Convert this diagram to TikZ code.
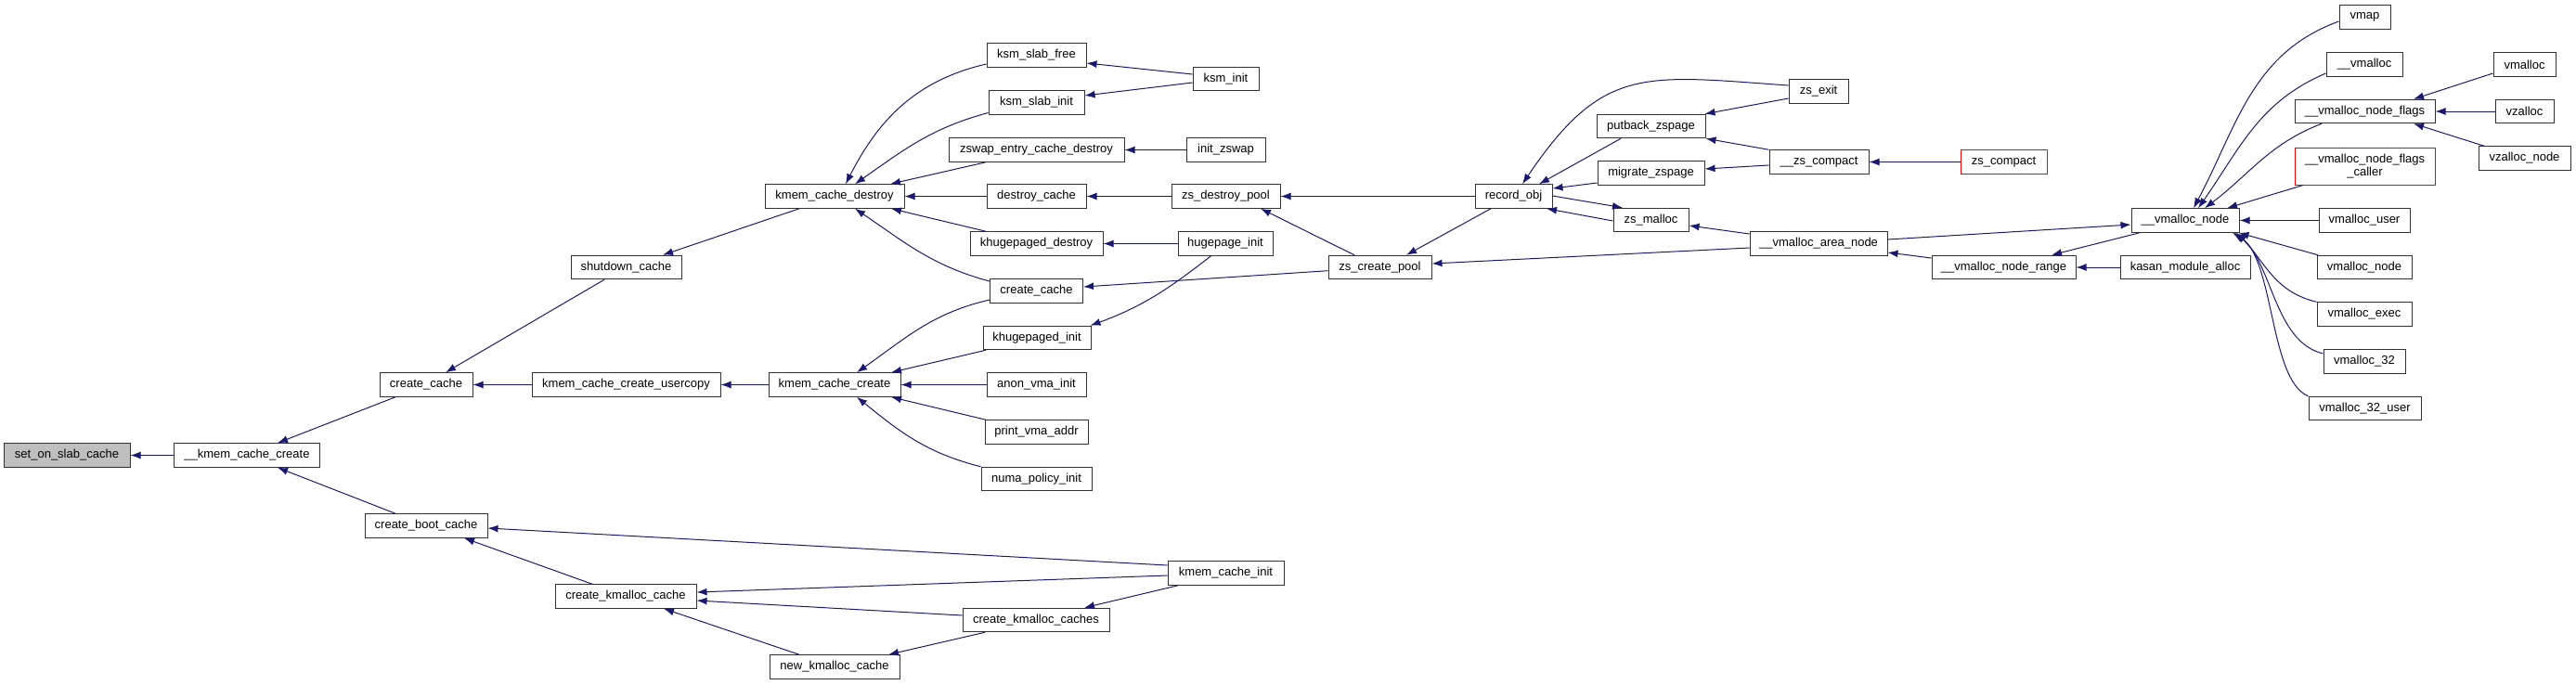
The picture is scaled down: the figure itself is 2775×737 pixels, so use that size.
\documentclass[tikz,border=0pt]{standalone}
\usepackage{fontspec}
\setmainfont{Liberation Sans}
\usepackage{tikz}
\usetikzlibrary{arrows.meta}
\definecolor{edgeblue}{RGB}{25,25,112}
\definecolor{boxgray}{RGB}{50,50,50}
\definecolor{rootfill}{RGB}{191,191,191}
\definecolor{hidered}{RGB}{255,0,0}

\begin{document}
\begin{tikzpicture}[
      x=1pt,y=-1pt,
      fn/.style={draw=boxgray,line width=1pt,fill=white,inner xsep=2pt,inner ysep=0pt,minimum height=25.5pt,font=\fontsize{13}{14}\selectfont,align=center},
      root/.style={fn,fill=rootfill},
      trunc/.style={fn,draw=hidered},
      call/.style={-{Latex[length=11pt,width=8pt]},line width=1pt,draw=edgeblue}
    ]
      \useasboundingbox (0,0) rectangle (2775,737);

      \node[root,minimum width=136pt] (setslab) at (72,490.5) {set\_on\_slab\_cache};
      \node[fn,minimum width=157pt] (kmemcreateint) at (266,490.5) {\_\_kmem\_cache\_create};
      \node[fn,minimum width=100pt] (createcacheA) at (459,414.5) {create\_cache};
      \node[fn,minimum width=132pt] (createboot) at (459,566.5) {create\_boot\_cache};
      \node[fn,minimum width=203pt] (usercopy) at (674.5,414.5) {kmem\_cache\_create\_usercopy};
      \node[fn,minimum width=119pt] (shutdown) at (674.5,288) {shutdown\_cache};
      \node[fn,minimum width=152pt] (createkmalloc) at (674,642.5) {create\_kmalloc\_cache};
      \node[fn,minimum width=150pt] (kmemdestroy) at (899,211.5) {kmem\_cache\_destroy};
      \node[fn,minimum width=142pt] (kmemcreate) at (899,414.5) {kmem\_cache\_create};
      \node[fn,minimum width=140pt] (newkmalloc) at (899,718.5) {new\_kmalloc\_cache};

      \node[fn,minimum width=107pt] (ksmfree) at (1116.5,59.5) {ksm\_slab\_free};
      \node[fn,minimum width=103pt] (ksmslabinit) at (1116.5,110.5) {ksm\_slab\_init};
      \node[fn,minimum width=189pt] (zswapdestroy) at (1116.5,161.5) {zswap\_entry\_cache\_destroy};
      \node[fn,minimum width=107pt] (destroycache) at (1116.5,211.5) {destroy\_cache};
      \node[fn,minimum width=143pt] (khdestroy) at (1116.5,262.5) {khugepaged\_destroy};
      \node[fn,minimum width=100pt] (createcacheB) at (1116.5,313.5) {create\_cache};
      \node[fn,minimum width=116pt] (khinit) at (1117,364) {khugepaged\_init};
      \node[fn,minimum width=107pt] (anonvma) at (1116.5,414.5) {anon\_vma\_init};
      \node[fn,minimum width=111pt] (printvma) at (1116.5,465.5) {print\_vma\_addr};
      \node[fn,minimum width=119pt] (numapolicy) at (1116.5,516) {numa\_policy\_init};
      \node[fn,minimum width=158pt] (kmallocs) at (1116,668) {create\_kmalloc\_caches};

      \node[fn,minimum width=71pt] (ksminit) at (1320.5,85) {ksm\_init};
      \node[fn,minimum width=85pt] (initzswap) at (1320.5,161.5) {init\_zswap};
      \node[fn,minimum width=117pt] (zsdestroy) at (1320.5,211.5) {zs\_destroy\_pool};
      \node[fn,minimum width=102pt] (hugeinit) at (1320,262.5) {hugepage\_init};
      \node[fn,minimum width=125pt] (kmeminit) at (1320.5,617.5) {kmem\_cache\_init};
      \node[fn,minimum width=111pt] (zscreate) at (1486.5,288) {zs\_create\_pool};
      \node[fn,minimum width=83pt] (recordobj) at (1630.5,211.5) {record\_obj};

      \node[fn,minimum width=117pt] (putback) at (1778.5,136) {putback\_zspage};
      \node[fn,minimum width=115pt] (migrate) at (1778.5,186.5) {migrate\_zspage};
      \node[fn,minimum width=81pt] (zsmalloc) at (1778.5,237) {zs\_malloc};
      \node[fn,minimum width=64pt] (zsexit) at (1959,98.5) {zs\_exit};
      \node[fn,minimum width=107pt] (zscompactint) at (1959.5,174.5) {\_\_zs\_compact};
      \node[fn,minimum width=148pt] (vareanode) at (1959,262.5) {\_\_vmalloc\_area\_node};
      \node[trunc,minimum width=93pt] (zscompact) at (2158.5,174.5) {zs\_compact};
      \node[fn,minimum width=155pt] (vnoderange) at (2158.5,288) {\_\_vmalloc\_node\_range};
      \node[fn,minimum width=116pt] (vnode) at (2354,237.5) {\_\_vmalloc\_node};
      \node[fn,minimum width=140pt] (kasan) at (2354,288) {kasan\_module\_alloc};

      \node[fn,minimum width=55pt] (vmap) at (2547.5,18.5) {vmap};
      \node[fn,minimum width=82pt] (vmallocint) at (2547,69.5) {\_\_vmalloc};
      \node[fn,minimum width=151pt] (vnodeflags) at (2547.5,120) {\_\_vmalloc\_node\_flags};
      \node[trunc,minimum width=151pt,minimum height=40pt] (vnfcaller) at (2547.5,179) {\_\_vmalloc\_node\_flags\\\_caller};
      \node[fn,minimum width=98pt] (vmallocuser) at (2547,237.5) {vmalloc\_user};
      \node[fn,minimum width=102pt] (vmallocnode) at (2547,288) {vmalloc\_node};
      \node[fn,minimum width=102pt] (vmallocexec) at (2547,338.5) {vmalloc\_exec};
      \node[fn,minimum width=88pt] (vmalloc32) at (2547,389.5) {vmalloc\_32};
      \node[fn,minimum width=121pt] (vmalloc32user) at (2547.5,440) {vmalloc\_32\_user};
      \node[fn,minimum width=67pt] (vmalloc) at (2719.5,69.5) {vmalloc};
      \node[fn,minimum width=63pt] (vzalloc) at (2719.5,120) {vzalloc};
      \node[fn,minimum width=99pt] (vzallocnode) at (2719.5,170.5) {vzalloc\_node};

      \draw[call] (kmemcreateint) -- (setslab);
      \draw[call] ([xshift=-33pt]createcacheA.south) -- ([xshift=33pt]kmemcreateint.north);
      \draw[call] ([xshift=-33pt]createboot.north) -- ([xshift=33pt]kmemcreateint.south);
      \draw[call] ([xshift=-23.5pt]shutdown.south) -- ([xshift=21pt]createcacheA.north);
      \draw[call] (usercopy) -- (createcacheA);
      \draw[call] ([xshift=-38pt]kmemdestroy.south) -- ([xshift=39.5pt]shutdown.north);
      \draw[call] (kmemcreate) -- (usercopy);
      \draw[call] ([yshift=8.5pt]kmeminit.west) -- ([yshift=-2.5pt]createboot.east);
      \draw[call] ([xshift=-36pt]createkmalloc.north) -- ([xshift=41pt]createboot.south);
      \draw[call] ([yshift=-2.5pt]kmeminit.west) -- ([yshift=4.5pt]createkmalloc.east);
      \draw[call] ([yshift=5pt]kmallocs.west) -- ([yshift=-4.5pt]createkmalloc.east);
      \draw[call] ([xshift=-38pt]newkmalloc.north) -- ([xshift=41pt]createkmalloc.south);
      \draw[call] ([xshift=-51.5pt]kmeminit.south) -- ([xshift=52pt]kmallocs.north);
      \draw[call] ([xshift=-55pt]kmallocs.south) -- ([xshift=58pt]newkmalloc.north);

      \draw[call] ([yshift=-9.5pt]ksmfree.west) to[out=193,in=63] ([xshift=12pt]kmemdestroy.north);
      \draw[call] ([yshift=-11pt]ksmslabinit.west) to[out=195,in=35] ([xshift=22pt]kmemdestroy.north);
      \draw[call] ([xshift=-54.5pt]zswapdestroy.south) -- ([xshift=60pt]kmemdestroy.north);
      \draw[call] (destroycache) -- (kmemdestroy);
      \draw[call] ([xshift=-54.5pt]khdestroy.north) -- ([xshift=61pt]kmemdestroy.south);
      \draw[call] ([yshift=10.5pt]createcacheB.west) to[out=165,in=-34] ([xshift=22pt]kmemdestroy.south);
      \draw[call] ([yshift=-9.5pt]createcacheB.west) to[out=193,in=35] ([xshift=24pt]kmemcreate.north);
      \draw[call] ([xshift=-55pt]khinit.south) -- ([xshift=61pt]kmemcreate.north);
      \draw[call] (anonvma) -- (kmemcreate);
      \draw[call] ([xshift=-54.5pt]printvma.north) -- ([xshift=61pt]kmemcreate.south);
      \draw[call] (numapolicy.north west) to[out=166,in=-39] ([xshift=24pt]kmemcreate.south);

      \draw[call] ([yshift=5pt]ksminit.west) -- ([yshift=-8.5pt]ksmfree.east);
      \draw[call] ([yshift=-4pt]ksminit.west) -- ([yshift=7.5pt]ksmslabinit.east);
      \draw[call] (initzswap) -- (zswapdestroy);
      \draw[call] (zsdestroy) -- (destroycache);
      \draw[call] (hugeinit) -- (khdestroy);
      \draw[call] ([xshift=-15.5pt]hugeinit.south) to[out=218,in=20] ([xshift=-1pt]khinit.north east);
      \draw[call] ([yshift=-3.7pt]zscreate.west) -- ([yshift=4.5pt]createcacheB.east);
      \draw[call] ([xshift=-27.5pt]zscreate.north) -- ([xshift=37.5pt]zsdestroy.south);

      \draw[call] (recordobj) -- (zsdestroy);
      \draw[call] ([xshift=-24.5pt]recordobj.south) -- ([xshift=28.5pt]zscreate.north);
      \draw[call] ([yshift=6.5pt]zsexit.west) to[out=176,in=56,looseness=1.3] ([xshift=9.5pt]recordobj.north);
      \draw[call] ([xshift=-32.5pt]putback.south) -- ([xshift=27.5pt]recordobj.north);
      \draw[call] ([yshift=-10.5pt]migrate.west) -- ([yshift=8.5pt]recordobj.east);
      \draw[call] ([yshift=0.5pt]recordobj.east) -- ([xshift=-30.5pt]zsmalloc.north);
      \draw[call] ([yshift=-1pt]zsmalloc.west) -- ([xshift=35.5pt]recordobj.south);

      \draw[call] ([yshift=-7.5pt]zsexit.west) -- ([xshift=-1pt]putback.north east);
      \draw[call] (zscompactint.north west) -- (putback.south east);
      \draw[call] ([yshift=-3.5pt]zscompactint.west) -- ([yshift=4.5pt]migrate.east);
      \draw[call] (zscompact) -- (zscompactint);
      \draw[call] ([yshift=10.5pt]vareanode.west) -- ([yshift=-6pt]zsmalloc.east);
      \draw[call] ([yshift=-4.5pt]vareanode.west) -- ([yshift=4pt]zscreate.east);
      \draw[call] ([yshift=4.5pt]vareanode.east) -- ([yshift=-4.5pt]vnode.west);
      \draw[call] ([yshift=10pt]vnoderange.west) -- ([yshift=-9.5pt]vareanode.east);
      \draw[call] ([xshift=-49pt]vnode.south) -- ([xshift=51.5pt]vnoderange.north);
      \draw[call] (kasan) -- (vnoderange);

      \draw[call] ([yshift=-4.5pt]vmap.west) to[out=200,in=62] ([xshift=9pt]vnode.north);
      \draw[call] ([yshift=-9.5pt]vmallocint.west) to[out=203,in=55] ([xshift=14pt]vnode.north);
      \draw[call] ([xshift=-46.5pt]vnodeflags.south) to[out=201,in=37] ([xshift=21pt]vnode.north);
      \draw[call] ([xshift=-66.5pt]vnfcaller.south) -- ([xshift=45pt]vnode.north);
      \draw[call] (vmallocuser) -- (vnode);
      \draw[call] ([xshift=-50pt]vmallocnode.north) -- ([xshift=-1pt]vnode.south east);
      \draw[call] (vmallocexec.north west) .. controls +(-46,-11) and +(31,31) .. ([xshift=55pt]vnode.south);
      \draw[call] ([yshift=8.5pt]vmalloc32.west) .. controls +(-53,-13) and +(41,32) .. ([xshift=53pt]vnode.south);
      \draw[call] (vmalloc32user.north west) .. controls +(-42,-17) and +(45,27) .. ([xshift=51pt]vnode.south);

      \draw[call] ([yshift=-9.5pt]vmalloc.west) -- ([xshift=52.5pt]vnodeflags.north);
      \draw[call] (vzalloc) -- (vnodeflags);
      \draw[call] ([xshift=-43.5pt]vzallocnode.north) -- ([xshift=52.5pt]vnodeflags.south);
    \end{tikzpicture}
\end{document}
